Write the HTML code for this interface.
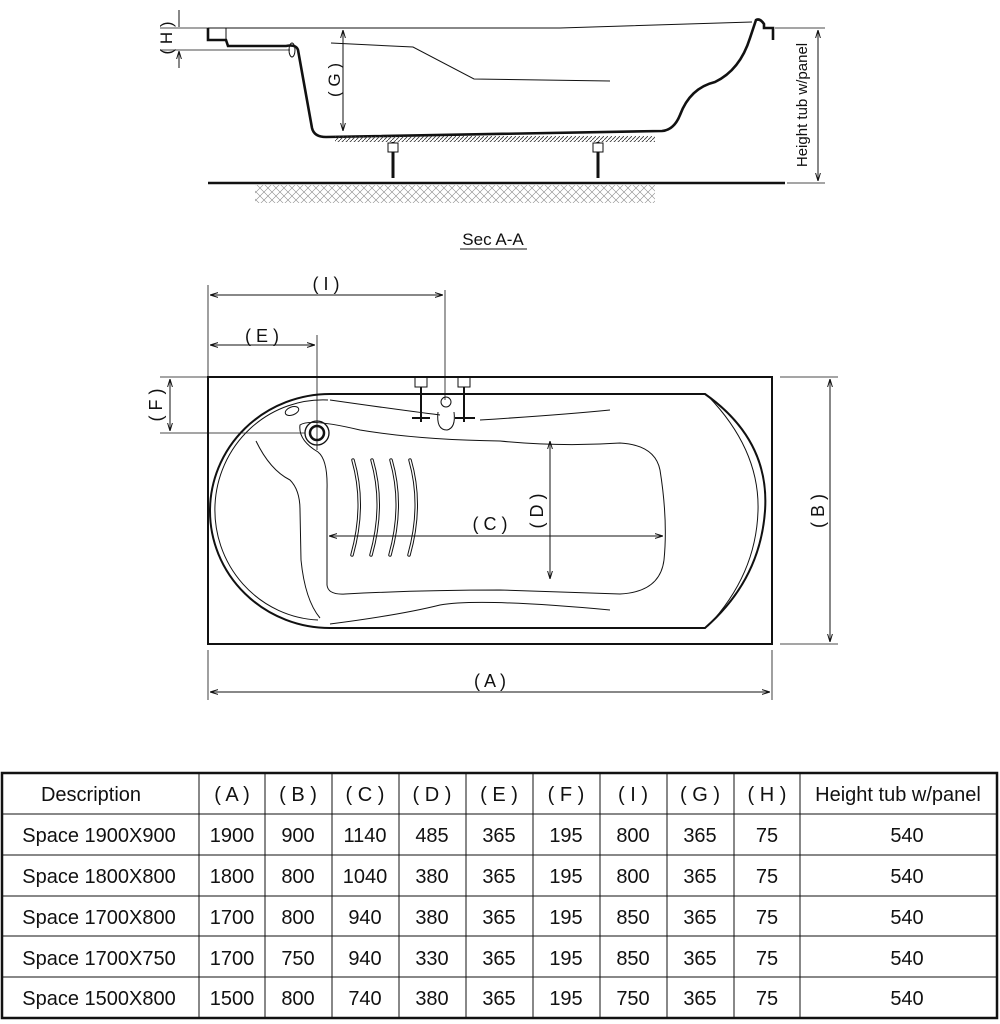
<!DOCTYPE html>
<html><head><meta charset="utf-8"><style>
html,body{margin:0;padding:0;background:#fff;width:1000px;height:1024px;overflow:hidden}
svg{display:block}
text{font-family:"Liberation Sans","DejaVu Sans",sans-serif;fill:#111}
</style></head><body>
<svg width="1000" height="1024" viewBox="0 0 1000 1024" xmlns="http://www.w3.org/2000/svg">
<defs>
<marker id="ar" viewBox="0 0 10 10" refX="10" refY="5" markerWidth="8" markerHeight="8" orient="auto-start-reverse"><path d="M0,2 L10,5 L0,8" fill="none" stroke="#111" stroke-width="1.2"/></marker>
<pattern id="hatch" width="8" height="8" patternUnits="userSpaceOnUse"><path d="M0,8 L8,0 M0,0 L8,8" stroke="#888" stroke-width="0.6"/></pattern>
<pattern id="h2" width="4" height="4" patternUnits="userSpaceOnUse"><path d="M0,4 L4,0" stroke="#333" stroke-width="0.8"/></pattern>
</defs>
<g fill="none" stroke="#111">
<path d="M208,28 L560,28 Q690,24 752,22" stroke-width="1"/>
<path d="M208,28 L208,40 L226,40 L228,46 L286,46 Q296,44 298,50 L312,128 Q314,137 326,137 L662,131 Q674,130 680,115 Q690,88 715,82 Q740,70 750,38 L756,20 Q760,18 764,24 L764,28 L773,28 L773,40" stroke-width="2.6"/>
<path d="M226,28 L226,40" stroke-width="1"/>
<path d="M331,43 L413,47 L474,79 L610,81" stroke-width="1"/>
<rect x="335" y="136" width="320" height="6" fill="url(#h2)" stroke="none"/>
<path d="M393,142 L393,178 M598,142 L598,178" stroke-width="3"/>
<rect x="388" y="143" width="10" height="9" stroke-width="1" fill="#fff"/>
<rect x="593" y="143" width="10" height="9" stroke-width="1" fill="#fff"/>
<path d="M208,183 L785,183" stroke-width="2.4"/>
<rect x="255" y="185" width="400" height="18" fill="url(#hatch)" stroke="none"/>
<ellipse cx="292" cy="50" rx="3" ry="7" stroke-width="1"/>
<path d="M343,30 L343,131" stroke-width="1" marker-start="url(#ar)" marker-end="url(#ar)"/>
<path d="M775,28 L825,28 M787,183 L825,183" stroke-width="0.8"/>
<path d="M818,30 L818,181" stroke-width="1" marker-start="url(#ar)" marker-end="url(#ar)"/>
<path d="M160,28 L208,28 M160,50 L290,50" stroke-width="0.8"/>
<path d="M179,10 L179,27 M179,68 L179,51" stroke-width="1" marker-end="url(#ar)"/>
</g>
<text x="0" y="0" font-size="17" transform="translate(172,38) rotate(-90)" text-anchor="middle">( H )</text>
<text x="0" y="0" font-size="17" transform="translate(340,80) rotate(-90)" text-anchor="middle">( G )</text>
<text x="0" y="0" font-size="15" transform="translate(807,105) rotate(-90)" text-anchor="middle">Height tub w/panel</text>
<text x="493" y="245" font-size="17" text-anchor="middle">Sec A-A</text>
<path d="M460,249 L527,249" stroke="#111" stroke-width="1"/>

<g fill="none" stroke="#111">
<rect x="208" y="377" width="564" height="267" stroke-width="2"/>
<path d="M330,394 L705,394 Q770,440 765,511 Q760,580 705,628 L330,628 A120,117 0 0 1 330,394 Z" stroke-width="2"/>
<path d="M708,396 Q760,450 758,511 Q756,575 708,626" stroke-width="1"/>
<path d="M328,400 A108,110 0 0 0 318,620" stroke-width="1"/>
<path d="M256,441 Q270,470 290,480 Q300,490 300,510 L301,560 Q305,600 320,618" stroke-width="1"/>
<path d="M330,400 Q400,410 440,415 M480,420 Q560,415 610,410" stroke-width="1"/>
<path d="M300,425 Q298,440 318,452 Q328,460 327,490 L327,585 Q328,595 345,594 Q420,590 500,590 Q560,592 620,594 Q660,592 664,560 Q668,520 660,470 Q655,445 620,443 Q560,447 500,441 Q420,440 360,430 Q310,418 300,425 Z" stroke-width="1"/>
<path d="M330,624 Q400,615 440,605 Q480,598 610,610" stroke-width="1"/>
<ellipse cx="292" cy="411" rx="7" ry="4" stroke-width="1" transform="rotate(-20 292 411)"/>
<circle cx="317" cy="433" r="12" stroke-width="1.3"/>
<circle cx="317" cy="433" r="7" stroke-width="2.5"/>
<path d="M353,460 Q366,505 352,555 M372,460 Q385,505 371,555 M391,460 Q404,505 390,555 M410,460 Q423,505 409,555" stroke-width="3.5" stroke-linecap="round"/>
<path d="M353,460 Q366,505 352,555 M372,460 Q385,505 371,555 M391,460 Q404,505 390,555 M410,460 Q423,505 409,555" stroke="#fff" stroke-width="1.5" stroke-linecap="round"/>
<rect x="415" y="377" width="12" height="10" stroke-width="1"/>
<rect x="458" y="377" width="12" height="10" stroke-width="1"/>
<path d="M421,387 L421,412 M464,387 L464,412 M412,418 L430,418 M455,418 L475,418 M421,412 L421,422 M464,412 L464,422" stroke-width="2"/>
<path d="M438,412 Q436,430 447,430 Q456,428 454,412" stroke-width="1"/>
<circle cx="446" cy="402" r="5" stroke-width="1"/>
<path d="M208,285 L208,377 M445,290 L445,400 M317,335 L317,450 M160,377 L208,377 M160,433 L305,433 M780,377 L838,377 M780,644 L838,644 M208,650 L208,700 M772,650 L772,700" stroke-width="0.8"/>
<path d="M210,295 L443,295" stroke-width="1" marker-start="url(#ar)" marker-end="url(#ar)"/>
<path d="M210,345 L315,345" stroke-width="1" marker-start="url(#ar)" marker-end="url(#ar)"/>
<path d="M170,379 L170,431" stroke-width="1" marker-start="url(#ar)" marker-end="url(#ar)"/>
<path d="M830,379 L830,642" stroke-width="1" marker-start="url(#ar)" marker-end="url(#ar)"/>
<path d="M210,692 L770,692" stroke-width="1" marker-start="url(#ar)" marker-end="url(#ar)"/>
<path d="M329,536 L663,536" stroke-width="1" marker-start="url(#ar)" marker-end="url(#ar)"/>
<path d="M550,441 L550,579" stroke-width="1" marker-start="url(#ar)" marker-end="url(#ar)"/>
</g>
<text x="326" y="290" font-size="18" text-anchor="middle">( I )</text>
<text x="262" y="342" font-size="18" text-anchor="middle">( E )</text>
<text x="490" y="530" font-size="18" text-anchor="middle">( C )</text>
<text x="490" y="687" font-size="18" text-anchor="middle">( A )</text>
<text transform="translate(162,405) rotate(-90)" font-size="18" text-anchor="middle">( F )</text>
<text transform="translate(543,511) rotate(-90)" font-size="18" text-anchor="middle">( D )</text>
<text transform="translate(824,511) rotate(-90)" font-size="18" text-anchor="middle">( B )</text>

<g stroke="#111" fill="none">
<rect x="2" y="773" width="995" height="245" stroke-width="2.5"/>
<path d="M2,814 H997 M2,855 H997 M2,896 H997 M2,936 H997 M2,977 H997" stroke-width="1"/>
<path d="M199,773 V1018 M265,773 V1018 M332,773 V1018 M399,773 V1018 M466,773 V1018 M533,773 V1018 M600,773 V1018 M667,773 V1018 M734,773 V1018 M800,773 V1018" stroke-width="1"/>
</g>
<g font-size="20" text-anchor="middle">
<text x="91" y="801">Description</text>
<text x="232" y="801">( A )</text><text x="298" y="801">( B )</text><text x="365" y="801">( C )</text><text x="432" y="801">( D )</text><text x="499" y="801">( E )</text><text x="566" y="801">( F )</text><text x="633" y="801">( I )</text><text x="700" y="801">( G )</text><text x="767" y="801">( H )</text><text x="898" y="801">Height tub w/panel</text>
</g>
<g font-size="20" text-anchor="middle">
<g transform="translate(0,41)"><text x="99" y="801">Space 1900X900</text><text x="232" y="801">1900</text><text x="298" y="801">900</text><text x="365" y="801">1140</text><text x="432" y="801">485</text><text x="499" y="801">365</text><text x="566" y="801">195</text><text x="633" y="801">800</text><text x="700" y="801">365</text><text x="767" y="801">75</text><text x="907" y="801">540</text></g>
<g transform="translate(0,82)"><text x="99" y="801">Space 1800X800</text><text x="232" y="801">1800</text><text x="298" y="801">800</text><text x="365" y="801">1040</text><text x="432" y="801">380</text><text x="499" y="801">365</text><text x="566" y="801">195</text><text x="633" y="801">800</text><text x="700" y="801">365</text><text x="767" y="801">75</text><text x="907" y="801">540</text></g>
<g transform="translate(0,123)"><text x="99" y="801">Space 1700X800</text><text x="232" y="801">1700</text><text x="298" y="801">800</text><text x="365" y="801">940</text><text x="432" y="801">380</text><text x="499" y="801">365</text><text x="566" y="801">195</text><text x="633" y="801">850</text><text x="700" y="801">365</text><text x="767" y="801">75</text><text x="907" y="801">540</text></g>
<g transform="translate(0,164)"><text x="99" y="801">Space 1700X750</text><text x="232" y="801">1700</text><text x="298" y="801">750</text><text x="365" y="801">940</text><text x="432" y="801">330</text><text x="499" y="801">365</text><text x="566" y="801">195</text><text x="633" y="801">850</text><text x="700" y="801">365</text><text x="767" y="801">75</text><text x="907" y="801">540</text></g>
<g transform="translate(0,204)"><text x="99" y="801">Space 1500X800</text><text x="232" y="801">1500</text><text x="298" y="801">800</text><text x="365" y="801">740</text><text x="432" y="801">380</text><text x="499" y="801">365</text><text x="566" y="801">195</text><text x="633" y="801">750</text><text x="700" y="801">365</text><text x="767" y="801">75</text><text x="907" y="801">540</text></g>
</g>
</svg>
</body></html>
